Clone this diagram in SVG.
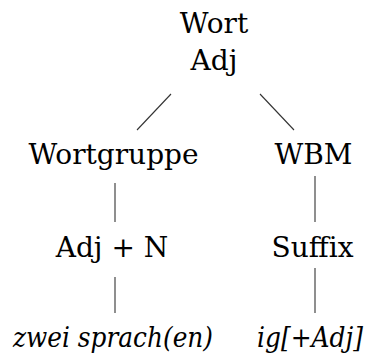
<svg xmlns="http://www.w3.org/2000/svg" width="373" height="358" viewBox="0 0 373 358">
<style>
text{font-family:"DejaVu Serif","Liberation Serif",serif;font-size:28px;fill:#000;text-anchor:middle}
.it{font-style:italic}
.c line{stroke:#333;stroke-width:1.1}
</style>
<rect width="373" height="358" fill="#fff"/>
<g class="c" id="connectors">
<line x1="171" y1="94" x2="137" y2="130"/>
<line x1="260" y1="94" x2="294" y2="130"/>
<line x1="115" y1="183" x2="115" y2="222"/>
<line x1="315" y1="176" x2="315" y2="222"/>
<line x1="115" y1="277" x2="115" y2="313"/>
<line x1="315" y1="268" x2="315" y2="313"/>
</g>
<g id="root"><text x="214" y="33">Wort</text><text x="214" y="70">Adj</text></g>
<g id="wortgruppe"><text x="113.5" y="164">Wortgruppe</text></g>
<g id="wbm"><text x="313.5" y="164">WBM</text></g>
<g id="adjn"><text x="112" y="257">Adj + N</text></g>
<g id="suffix"><text x="312.5" y="257">Suffix</text></g>
<g id="zwei"><text class="it" x="113" y="347" textLength="200" lengthAdjust="spacingAndGlyphs">zwei sprach(en)</text></g>
<g id="ig"><text class="it" x="310" y="347" textLength="106" lengthAdjust="spacingAndGlyphs">ig[+Adj]</text></g>
</svg>
